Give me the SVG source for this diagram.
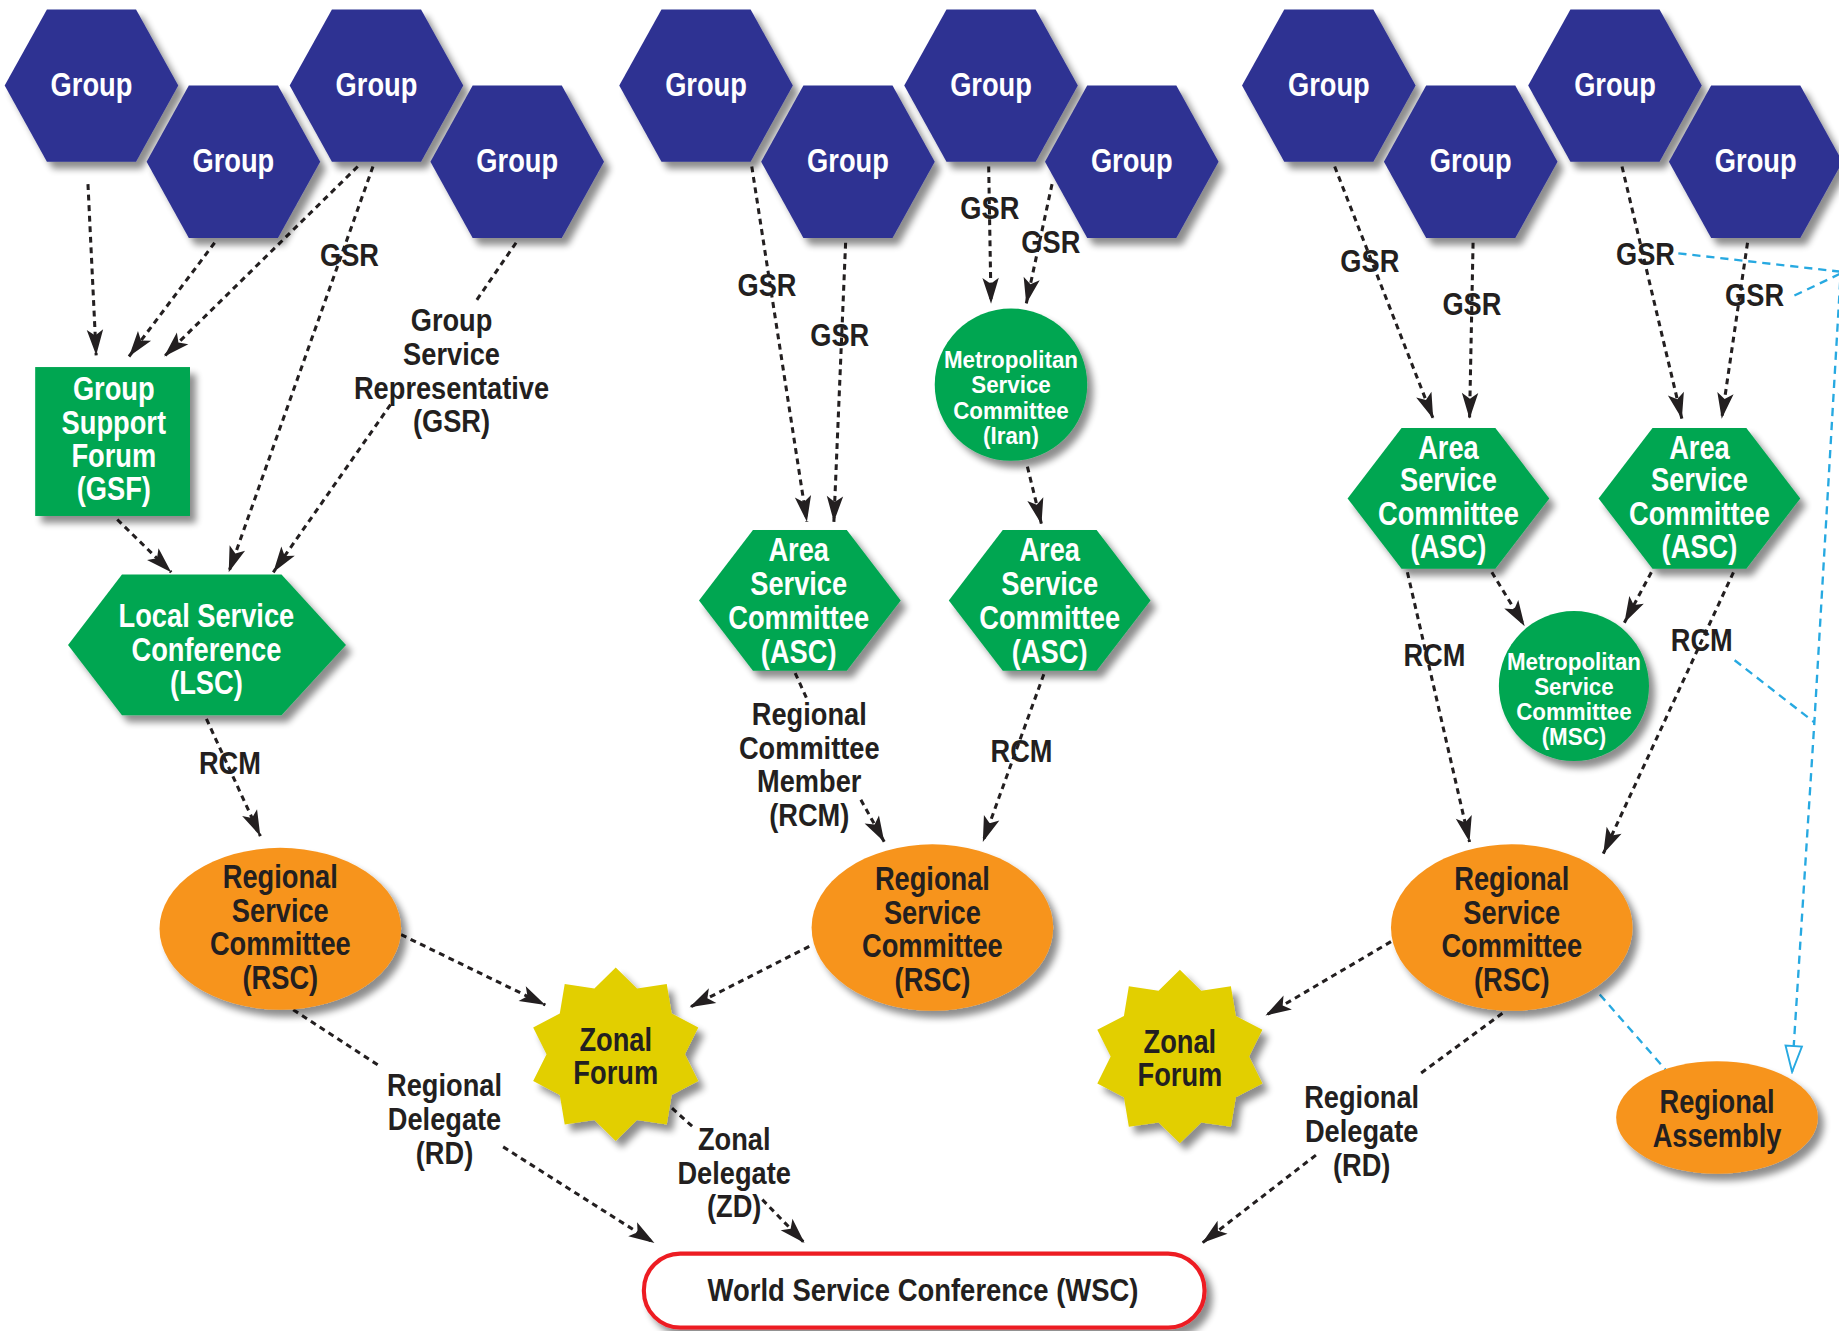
<svg xmlns="http://www.w3.org/2000/svg" xmlns:xlink="http://www.w3.org/1999/xlink" width="1839" height="1331" viewBox="0 0 1839 1331">
<style>
.t{font-family:"Liberation Sans Narrow","Liberation Sans",Arial,sans-serif;font-weight:bold;text-anchor:middle}
.w{fill:#ffffff;font-size:28px}
.b{fill:#231f20;font-size:28px}
.l{fill:#231f20;font-size:27px}
.m{fill:#ffffff;font-size:20.5px}
.blue{fill:#2e3192}
.green{fill:#00a651}
.orange{fill:#f7941d}
.yellow{fill:#e2cf00}
.con{fill:none;stroke:#231f20;stroke-width:2.6;stroke-dasharray:5 4;marker-end:url(#ah)}
.bl{fill:none;stroke:#27a9e1;stroke-width:2;stroke-dasharray:7 5}
</style>
<defs>
<filter id="sh" x="-20%" y="-20%" width="150%" height="150%">
<feGaussianBlur in="SourceAlpha" stdDeviation="3"/>
<feOffset dx="5" dy="6" result="o"/>
<feComponentTransfer><feFuncA type="linear" slope="0.45"/></feComponentTransfer>
<feMerge><feMergeNode/><feMergeNode in="SourceGraphic"/></feMerge>
</filter>
<marker id="ah" viewBox="-24 -9 26 18" refX="0" refY="0" markerWidth="26" markerHeight="18" markerUnits="userSpaceOnUse" orient="auto">
<path d="M0,0 L-22,-7 L-17,0 L-22,7 Z" fill="#231f20"/>
</marker>
<marker id="ahb" viewBox="-24 -9 26 18" refX="0" refY="0" markerWidth="26" markerHeight="18" markerUnits="userSpaceOnUse" orient="auto">
<path d="M0,0 L-22,-7 L-22,7 Z" fill="#ffffff" stroke="#27a9e1" stroke-width="1.6"/>
</marker>
<polygon id="hexG" points="-74,0 -38,-65 38,-65 74,0 38,65 -38,65"/>
<polygon id="hexA" points="-86,0 -40,-60 40,-60 86,0 40,60 -40,60"/>
<path id="star" d="M0,-74 L18.2,-56.1 L43.5,-59.9 L47.7,-34.7 L70.4,-22.9 L59,0 L70.4,22.9 L47.7,34.7 L43.5,59.9 L18.2,56.1 L0,74 L-18.2,56.1 L-43.5,59.9 L-47.7,34.7 L-70.4,22.9 L-59,0 L-70.4,-22.9 L-47.7,-34.7 L-43.5,-59.9 L-18.2,-56.1 Z"/>
</defs>
<rect x="0" y="0" width="1839" height="1331" fill="#ffffff"/>
<g transform="scale(1.17283 1.17269)">
<g id="connectors">
<path class="con" d="M75,157 L82,303"/>
<path class="con" d="M183,207 L110,304"/>
<path class="con" d="M305,142 L140,304"/>
<path class="con" d="M318,142 L195,488"/>
<path class="con" d="M440,207 L405,258 M333,345 L233,488"/>
<path class="con" d="M100,443 L146,488"/>
<path class="con" d="M176,613 L222,713"/>
<path class="con" d="M641,142 L688,445"/>
<path class="con" d="M721,207 L711,445"/>
<path class="con" d="M843,142 L845,259"/>
<path class="con" d="M897,157 L875,259"/>
<path class="con" d="M876,398 L888,447"/>
<path class="con" d="M678,574 L688,596 M734,682 L754,718"/>
<path class="con" d="M890,575 L838,718"/>
<path class="con" d="M1138,142 L1222,357"/>
<path class="con" d="M1256,207 L1253,357"/>
<path class="con" d="M1383,142 L1434,357"/>
<path class="con" d="M1490,207 L1468,357"/>
<path class="con" d="M1272,488 L1300,534"/>
<path class="con" d="M1408,488 L1385,531"/>
<path class="con" d="M1200,488 L1253,718"/>
<path class="con" d="M1478,488 L1367,728"/>
<path class="con" d="M342,797 L465,857"/>
<path class="con" d="M690,807 L588,859"/>
<path class="con" d="M1186,803 L1079,866"/>
<path class="con" d="M250,861 L325,910 M429,978 L558,1060"/>
<path class="con" d="M573,945 L593,963 M650,1023 L686,1060"/>
<path class="con" d="M1281,864 L1209,917 M1122,985 L1025,1060"/>
<path class="bl" d="M1431,216 L1572,232"/>
<path class="bl" d="M1530,252 L1572,232"/>
<path class="bl" d="M1569,240 L1547,616 L1528,914" marker-end="url(#ahb)"/>
<path class="bl" d="M1479,563 L1547,616"/>
<path class="bl" d="M1364,848 L1420,912"/>
<text class="t l" transform="translate(298 227) scale(.86 1)">GSR</text>
<text class="t l" transform="translate(385 282) scale(.86 1)">Group</text>
<text class="t l" transform="translate(385 311) scale(.86 1)">Service</text>
<text class="t l" transform="translate(385 340) scale(.86 1)">Representative</text>
<text class="t l" transform="translate(385 368) scale(.86 1)">(GSR)</text>
<text class="t l" transform="translate(196 660) scale(.86 1)">RCM</text>
<text class="t l" transform="translate(654 252) scale(.86 1)">GSR</text>
<text class="t l" transform="translate(716 295) scale(.86 1)">GSR</text>
<text class="t l" transform="translate(844 187) scale(.86 1)">GSR</text>
<text class="t l" transform="translate(896 216) scale(.86 1)">GSR</text>
<text class="t l" transform="translate(690 618) scale(.86 1)">Regional</text>
<text class="t l" transform="translate(690 647) scale(.86 1)">Committee</text>
<text class="t l" transform="translate(690 675) scale(.86 1)">Member</text>
<text class="t l" transform="translate(690 704) scale(.86 1)">(RCM)</text>
<text class="t l" transform="translate(871 650) scale(.86 1)">RCM</text>
<text class="t l" transform="translate(1168 232) scale(.86 1)">GSR</text>
<text class="t l" transform="translate(1255 269) scale(.86 1)">GSR</text>
<text class="t l" transform="translate(1403 226) scale(.86 1)">GSR</text>
<text class="t l" transform="translate(1496 261) scale(.86 1)">GSR</text>
<text class="t l" transform="translate(1223 568) scale(.86 1)">RCM</text>
<text class="t l" transform="translate(1451 555) scale(.86 1)">RCM</text>
<text class="t l" transform="translate(379 935) scale(.86 1)">Regional</text>
<text class="t l" transform="translate(379 964) scale(.86 1)">Delegate</text>
<text class="t l" transform="translate(379 993) scale(.86 1)">(RD)</text>
<text class="t l" transform="translate(626 981) scale(.86 1)">Zonal</text>
<text class="t l" transform="translate(626 1010) scale(.86 1)">Delegate</text>
<text class="t l" transform="translate(626 1038) scale(.86 1)">(ZD)</text>
<text class="t l" transform="translate(1161 945) scale(.86 1)">Regional</text>
<text class="t l" transform="translate(1161 974) scale(.86 1)">Delegate</text>
<text class="t l" transform="translate(1161 1003) scale(.86 1)">(RD)</text>
</g>
<g id="group-1"><use xlink:href="#hexG" href="#hexG" x="78" y="73" class="blue" filter="url(#sh)"/><text class="t w" transform="translate(78 82) scale(.83 1)">Group</text></g>
<g id="group-2"><use xlink:href="#hexG" href="#hexG" x="199" y="138" class="blue" filter="url(#sh)"/><text class="t w" transform="translate(199 147) scale(.83 1)">Group</text></g>
<g id="group-3"><use xlink:href="#hexG" href="#hexG" x="321" y="73" class="blue" filter="url(#sh)"/><text class="t w" transform="translate(321 82) scale(.83 1)">Group</text></g>
<g id="group-4"><use xlink:href="#hexG" href="#hexG" x="441" y="138" class="blue" filter="url(#sh)"/><text class="t w" transform="translate(441 147) scale(.83 1)">Group</text></g>
<g id="group-5"><use xlink:href="#hexG" href="#hexG" x="602" y="73" class="blue" filter="url(#sh)"/><text class="t w" transform="translate(602 82) scale(.83 1)">Group</text></g>
<g id="group-6"><use xlink:href="#hexG" href="#hexG" x="723" y="138" class="blue" filter="url(#sh)"/><text class="t w" transform="translate(723 147) scale(.83 1)">Group</text></g>
<g id="group-7"><use xlink:href="#hexG" href="#hexG" x="845" y="73" class="blue" filter="url(#sh)"/><text class="t w" transform="translate(845 82) scale(.83 1)">Group</text></g>
<g id="group-8"><use xlink:href="#hexG" href="#hexG" x="965" y="138" class="blue" filter="url(#sh)"/><text class="t w" transform="translate(965 147) scale(.83 1)">Group</text></g>
<g id="group-9"><use xlink:href="#hexG" href="#hexG" x="1133" y="73" class="blue" filter="url(#sh)"/><text class="t w" transform="translate(1133 82) scale(.83 1)">Group</text></g>
<g id="group-10"><use xlink:href="#hexG" href="#hexG" x="1254" y="138" class="blue" filter="url(#sh)"/><text class="t w" transform="translate(1254 147) scale(.83 1)">Group</text></g>
<g id="group-11"><use xlink:href="#hexG" href="#hexG" x="1377" y="73" class="blue" filter="url(#sh)"/><text class="t w" transform="translate(1377 82) scale(.83 1)">Group</text></g>
<g id="group-12"><use xlink:href="#hexG" href="#hexG" x="1497" y="138" class="blue" filter="url(#sh)"/><text class="t w" transform="translate(1497 147) scale(.83 1)">Group</text></g>
<g id="gsf"><rect x="30" y="313" width="132" height="127" class="green" filter="url(#sh)"/>
<text class="t w" transform="translate(97 341) scale(.83 1)">Group</text><text class="t w" transform="translate(97 370) scale(.83 1)">Support</text><text class="t w" transform="translate(97 398) scale(.83 1)">Forum</text><text class="t w" transform="translate(97 426) scale(.83 1)">(GSF)</text></g>
<g id="lsc"><polygon points="58,550 104,490 240,490 295,550 240,610 104,610" class="green" filter="url(#sh)"/>
<text class="t w" transform="translate(176 535) scale(.83 1)">Local Service</text><text class="t w" transform="translate(176 564) scale(.83 1)">Conference</text><text class="t w" transform="translate(176 592) scale(.83 1)">(LSC)</text></g>
<g id="asc-1"><use xlink:href="#hexA" href="#hexA" x="682" y="512" class="green" filter="url(#sh)"/>
<text class="t w" transform="translate(681 478) scale(.83 1)">Area</text><text class="t w" transform="translate(681 507) scale(.83 1)">Service</text><text class="t w" transform="translate(681 536) scale(.83 1)">Committee</text><text class="t w" transform="translate(681 565) scale(.83 1)">(ASC)</text></g>
<g id="asc-2"><use xlink:href="#hexA" href="#hexA" x="895" y="512" class="green" filter="url(#sh)"/>
<text class="t w" transform="translate(895 478) scale(.83 1)">Area</text><text class="t w" transform="translate(895 507) scale(.83 1)">Service</text><text class="t w" transform="translate(895 536) scale(.83 1)">Committee</text><text class="t w" transform="translate(895 565) scale(.83 1)">(ASC)</text></g>
<g id="msc-iran"><circle cx="862" cy="328" r="65" class="green" filter="url(#sh)"/>
<text class="t m" transform="translate(862 314) scale(.93 1)">Metropolitan</text><text class="t m" transform="translate(862 335.5) scale(.93 1)">Service</text><text class="t m" transform="translate(862 357) scale(.93 1)">Committee</text><text class="t m" transform="translate(862 378.5) scale(.93 1)">(Iran)</text></g>
<g id="asc-3"><use xlink:href="#hexA" href="#hexA" x="1235" y="425" class="green" filter="url(#sh)"/>
<text class="t w" transform="translate(1235 391) scale(.83 1)">Area</text><text class="t w" transform="translate(1235 419) scale(.83 1)">Service</text><text class="t w" transform="translate(1235 448) scale(.83 1)">Committee</text><text class="t w" transform="translate(1235 476) scale(.83 1)">(ASC)</text></g>
<g id="asc-4"><use xlink:href="#hexA" href="#hexA" x="1449" y="425" class="green" filter="url(#sh)"/>
<text class="t w" transform="translate(1449 391) scale(.83 1)">Area</text><text class="t w" transform="translate(1449 419) scale(.83 1)">Service</text><text class="t w" transform="translate(1449 448) scale(.83 1)">Committee</text><text class="t w" transform="translate(1449 476) scale(.83 1)">(ASC)</text></g>
<g id="msc"><circle cx="1342" cy="585" r="64" class="green" filter="url(#sh)"/>
<text class="t m" transform="translate(1342 571) scale(.93 1)">Metropolitan</text><text class="t m" transform="translate(1342 592.5) scale(.93 1)">Service</text><text class="t m" transform="translate(1342 614) scale(.93 1)">Committee</text><text class="t m" transform="translate(1342 635.5) scale(.93 1)">(MSC)</text></g>
<g id="rsc-1"><ellipse cx="239" cy="792" rx="103" ry="69" class="orange" filter="url(#sh)"/>
<text class="t b" transform="translate(239 757) scale(.83 1)">Regional</text><text class="t b" transform="translate(239 786) scale(.83 1)">Service</text><text class="t b" transform="translate(239 814) scale(.83 1)">Committee</text><text class="t b" transform="translate(239 843) scale(.83 1)">(RSC)</text></g>
<g id="rsc-2"><ellipse cx="795" cy="791" rx="103" ry="71" class="orange" filter="url(#sh)"/>
<text class="t b" transform="translate(795 759) scale(.83 1)">Regional</text><text class="t b" transform="translate(795 788) scale(.83 1)">Service</text><text class="t b" transform="translate(795 816) scale(.83 1)">Committee</text><text class="t b" transform="translate(795 845) scale(.83 1)">(RSC)</text></g>
<g id="rsc-3"><ellipse cx="1289" cy="791" rx="103" ry="71" class="orange" filter="url(#sh)"/>
<text class="t b" transform="translate(1289 759) scale(.83 1)">Regional</text><text class="t b" transform="translate(1289 788) scale(.83 1)">Service</text><text class="t b" transform="translate(1289 816) scale(.83 1)">Committee</text><text class="t b" transform="translate(1289 845) scale(.83 1)">(RSC)</text></g>
<g id="regional-assembly"><ellipse cx="1464" cy="953" rx="86" ry="48" class="orange" filter="url(#sh)"/>
<text class="t b" transform="translate(1464 949) scale(.83 1)">Regional</text><text class="t b" transform="translate(1464 978) scale(.83 1)">Assembly</text></g>
<g id="zonal-forum-1"><use xlink:href="#star" href="#star" x="525" y="899" class="yellow" filter="url(#sh)"/>
<text class="t b" transform="translate(525 896) scale(.83 1)">Zonal</text><text class="t b" transform="translate(525 924) scale(.83 1)">Forum</text></g>
<g id="zonal-forum-2"><use xlink:href="#star" href="#star" x="1006" y="901" class="yellow" filter="url(#sh)"/>
<text class="t b" transform="translate(1006 898) scale(.83 1)">Zonal</text><text class="t b" transform="translate(1006 926) scale(.83 1)">Forum</text></g>
<g id="wsc"><rect x="549" y="1069" width="478" height="63" rx="31" fill="#ffffff" stroke="#ed1c24" stroke-width="3.5" filter="url(#sh)"/>
<text class="t" transform="translate(787 1109) scale(.9 1)" fill="#231f20" font-size="26">World Service Conference (WSC)</text></g>
</g>
</svg>
